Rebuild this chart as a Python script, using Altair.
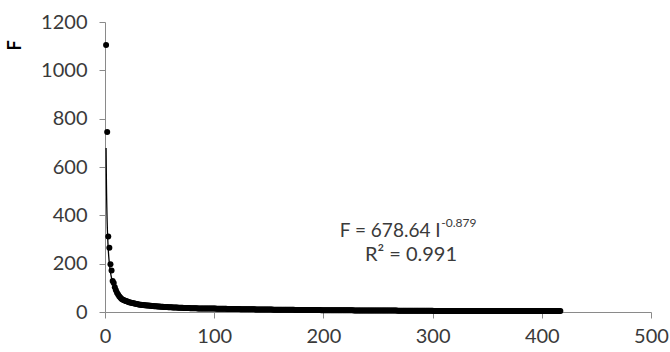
import altair as alt
import pandas as pd

# Frequencies of the first ranks, read one by one
HEAD_F = [1105, 745, 312, 266, 198, 172, 128, 120, 102, 90,
          80, 72, 65, 60, 55, 52, 50, 48, 46, 44,
          42, 40, 39, 38, 37, 36, 35, 34, 33, 32,
          31, 30, 30, 29, 29, 28, 28, 27, 27, 27]
# Tail: value and how many consecutive ranks carry it (estimated from the band)
TAIL_F = [26, 25, 24, 23, 22, 21, 20, 19, 18, 17, 16, 15, 14, 13, 12, 11, 10, 9, 8, 7, 6, 5, 4]
TAIL_N = [2, 2, 3, 3, 3, 4, 4, 5, 5, 6, 7, 8, 9, 10, 12, 14, 16, 20, 24, 30, 40, 33, 117]

# Power-law trend line shown on the chart
FIT_A = 678.64
FIT_B = -0.879

X_TICKS = [0, 100, 200, 300, 400, 500]
Y_TICKS = [0, 200, 400, 600, 800, 1000, 1200]

F_vals = list(HEAD_F)
for v, n in zip(TAIL_F, TAIL_N):
    F_vals += [v] * n
I_vals = list(range(1, len(F_vals) + 1))
I_MAX = len(F_vals)

df = pd.DataFrame({"I": I_vals, "F": F_vals})

FONT = "Lato"
AXIS_GRAY = "#8a8a8a"
TEXT_GRAY = "#3a3a3a"

xscale = alt.Scale(domain=[0, 500], nice=False)
yscale = alt.Scale(domain=[0, 1200], nice=False)

xaxis = alt.Axis(values=X_TICKS, format="d", grid=False, tickSize=6, labelPadding=8,
                 domainColor=AXIS_GRAY, tickColor=AXIS_GRAY, labelFont=FONT,
                 labelFontSize=20, labelColor=TEXT_GRAY, title="I",
                 titleFont=FONT, titleFontSize=16, titleFontWeight="bold",
                 titleColor="black", titleX=560, titleY=38, titleBaseline="top",
                 titleAlign="center", labelFlush=False)
yaxis = alt.Axis(values=Y_TICKS, format="d", grid=False, tickSize=6, labelPadding=12,
                 domainColor=AXIS_GRAY, tickColor=AXIS_GRAY, labelFont=FONT,
                 labelFontSize=20, labelColor=TEXT_GRAY, title="F",
                 titleFont=FONT, titleFontSize=18, titleFontWeight="bold",
                 titleColor="black", titleX=-90, titleY=23, titleAngle=-90,
                 titleAlign="center", titleBaseline="middle", labelFlush=False)

points = alt.Chart(df).mark_circle(size=36, color="black", opacity=1).encode(
    x=alt.X("I:Q", scale=xscale, axis=xaxis),
    y=alt.Y("F:Q", scale=yscale, axis=yaxis),
)

fit = alt.Chart(alt.sequence(0, 1001, 1, as_="t")).transform_calculate(
    I=f"exp(datum.t / 1000 * log({I_MAX}))"
).transform_calculate(
    F=f"{FIT_A} * pow(datum.I, {FIT_B})"
).mark_line(color="black", strokeWidth=1.3).encode(
    x=alt.X("I:Q", scale=xscale),
    y=alt.Y("F:Q", scale=yscale),
    order="t:Q",
)

ann_main = alt.Chart(pd.DataFrame({"x": [215], "y": [312], "t": ["F = 678.64 I"]})).mark_text(
    align="left", baseline="alphabetic", font=FONT, fontSize=19, color=TEXT_GRAY
).encode(x=alt.X("x:Q", scale=xscale), y=alt.Y("y:Q", scale=yscale), text="t:N")

ann_sup = alt.Chart(pd.DataFrame({"x": [308], "y": [350], "t": ["-0.879"]})).mark_text(
    align="left", baseline="alphabetic", font=FONT, fontSize=12, color=TEXT_GRAY
).encode(x=alt.X("x:Q", scale=xscale), y=alt.Y("y:Q", scale=yscale), text="t:N")

ann_r2 = alt.Chart(pd.DataFrame({"x": [238], "y": [209], "t": ["R² = 0.991"]})).mark_text(
    align="left", baseline="alphabetic", font=FONT, fontSize=20, color=TEXT_GRAY
).encode(x=alt.X("x:Q", scale=xscale), y=alt.Y("y:Q", scale=yscale), text="t:N")

chart = alt.layer(points, fit, ann_main, ann_sup, ann_r2).properties(
    width=546, height=290,
    padding={"left": 105, "top": 22, "right": 19, "bottom": 40},
    autosize=alt.AutoSizeParams(type="none"),
    background="white",
).configure_view(stroke=None)

chart.save("out.html", embed_options={"renderer": "svg", "actions": False})
